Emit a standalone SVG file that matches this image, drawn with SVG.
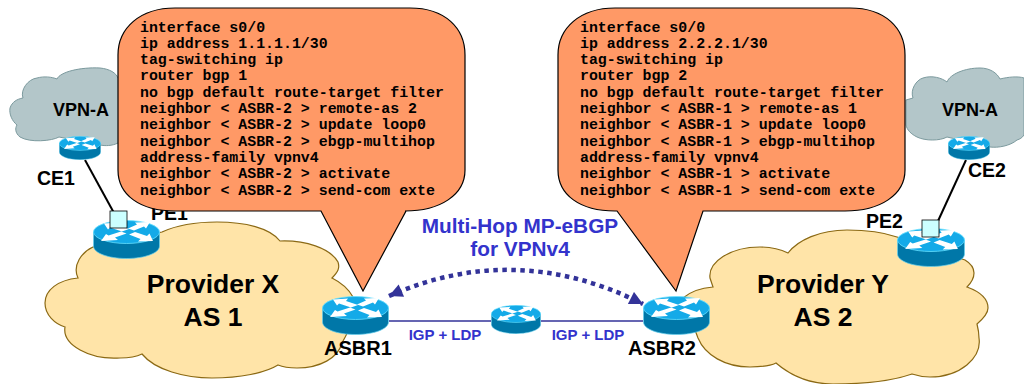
<svg xmlns="http://www.w3.org/2000/svg" xmlns:xlink="http://www.w3.org/1999/xlink" width="1024" height="384" viewBox="0 0 1024 384">
<style>
.lab{font-family:"Liberation Sans",Arial,sans-serif;font-weight:bold;fill:#000}
.prov{font-size:26.5px;text-anchor:middle}
.blue{fill:#3333cc;text-anchor:middle}
.cfg{font-family:"Liberation Mono","Courier New",monospace;font-weight:bold;font-size:14.9px;fill:#000}
.gray{fill:#b3c6c9;stroke:#7c9a9e;stroke-width:1}
.tan{fill:#ffe4a8;stroke:#8b6914;stroke-width:1.2}
.call{fill:#ff9966;stroke:#000;stroke-width:1.2}
.sq{fill:#ccffff;stroke:#000;stroke-width:.8}
</style>
<defs>
<symbol id="router" viewBox="0 0 67 39" preserveAspectRatio="none">
<path d="M.5 12V26C.5 33 15 38.500 33.500 38.500S66.500 33 66.500 26V12Z" fill="#0077a8" stroke="#66d0ee" stroke-width=".7"/>
<ellipse cx="33.500" cy="12" rx="33" ry="11.500" fill="#14aae8" stroke="#66e0ff" stroke-width=".8"/>
<path fill="#fff" d="M11 3.500L26 2.500L24 5L36 9L29 11.500L17 7.500L15 9.500ZM57 2L42 2.500L44 4.500L35 8.500L41 10.500L51 6.500L53 8.500ZM8 21L13 14L15.500 15.500L28 11.500L33.500 13.500L22 17.500L25 20ZM60 21L45 21.500L47.500 19L36 14.500L42 12L54 16L56.500 13.500Z"/>
</symbol>
<marker id="arr" viewBox="0 0 10 10" refX="10" refY="5" markerWidth="3.400" markerHeight="3" orient="auto-start-reverse"><path d="M0 0L10 5L0 10Z" fill="#333399"/></marker>
</defs>

<g id="cloud-vpn-a-left"><path class="gray" d="M59 137C52 141 30 143 20 137C15 133 15 128 17 125C12 121 9 114 10 108C12 102 17 99 23 98C20 90 28 79 37 78C44 76 52 77 57 79C60 72 80 67 100 68C110 69 116 73 118 78L130 78V143H118C112 146 105 146 100 145Z"/></g>
<g id="cloud-vpn-a-right"><path class="gray" d="M906 100L913 98C910 90 916 80 923 78C932 75 942 78 947 82C950 74 965 68 980 68C990 68 997 73 1000 79C1008 77 1018 76 1024 78V135C1022 138 1020 139 1017 140C1010 146 998 148 990 147L947 137C940 141 925 141 917 137C911 134 907 130 906 125Z"/></g>
<g id="cloud-provider-x"><path class="tan" d="M93 247C82 252 72 265 78 278C58 280 45 290 45 303C45 315 55 324 65 327C62 345 90 360 120 358C128 358 136 357 142 354C155 370 185 378 212 378C240 378 265 373 278 365C285 368 290 368 297 368C320 368 338 358 342 343C352 325 358 310 353 297C348 288 340 282 332 278C338 272 340 268 338 262C330 248 305 240 280 241C270 228 245 222 217 222C195 222 175 226 162 232Z"/></g>
<g id="cloud-provider-y"><path class="tan" d="M897 237C880 231 865 230 847 230C820 230 798 240 788 253C780 249 770 247 760 247C730 247 708 262 710 278L713 287C700 288 690 292 683 298L698 338C705 355 725 367 750 367C760 367 770 366 776 363C790 375 810 384 833 384C870 384 895 380 912 374C918 376 924 377 930 377C960 377 982 358 979 338C979 332 978 328 977 324C984 318 988 313 988 308C988 298 978 291 967 287C972 282 974 278 974 273C974 268 970 263 965 260Z"/></g>

<g id="connectors">
<path d="M85 160L114 213" stroke="#000" stroke-width="2" fill="none"/>
<path d="M966 160L938 221" stroke="#000" stroke-width="2" fill="none"/>
<path d="M389 321H491M541 321H643" stroke="#333399" stroke-width="1.500" fill="none"/>
<path d="M389 296Q516 240 643 304" stroke="#333399" stroke-width="4.500" stroke-dasharray="4.500 4.500" fill="none" marker-start="url(#arr)" marker-end="url(#arr)"/>
</g>

<g id="label-pe1"><text class="lab" x="151" y="220" font-size="19.500">PE1</text></g>

<g id="callout-asbr1">
<path class="call" d="M175 8H410C445 8 465 28 465 55V170C465 195 440 211 405 211H406L363 291L321 211H175C140 211 118 195 118 170V55C118 28 140 8 175 8Z"/>
<text class="cfg" x="140" y="31.500">interface s0/0</text>
<text class="cfg" x="140" y="47.800">ip address 1.1.1.1/30</text>
<text class="cfg" x="140" y="64.100">tag-switching ip</text>
<text class="cfg" x="140" y="80.400">router bgp 1</text>
<text class="cfg" x="140" y="96.700">no bgp default route-target filter</text>
<text class="cfg" x="140" y="113">neighbor &lt; ASBR-2 &gt; remote-as 2</text>
<text class="cfg" x="140" y="129.300">neighbor &lt; ASBR-2 &gt; update loop0</text>
<text class="cfg" x="140" y="145.600">neighbor &lt; ASBR-2 &gt; ebgp-multihop</text>
<text class="cfg" x="140" y="161.900">address-family vpnv4</text>
<text class="cfg" x="140" y="178.200">neighbor &lt; ASBR-2 &gt; activate</text>
<text class="cfg" x="140" y="194.500">neighbor &lt; ASBR-2 &gt; send-com exte</text>
</g>

<g id="callout-asbr2">
<path class="call" d="M615 8H850C885 8 905 28 905 55V170C905 195 880 211 845 211H703L676 291L617 211H615C580 211 558 195 558 170V55C558 28 580 8 615 8Z"/>
<text class="cfg" x="580" y="31.500">interface s0/0</text>
<text class="cfg" x="580" y="47.800">ip address 2.2.2.1/30</text>
<text class="cfg" x="580" y="64.100">tag-switching ip</text>
<text class="cfg" x="580" y="80.400">router bgp 2</text>
<text class="cfg" x="580" y="96.700">no bgp default route-target filter</text>
<text class="cfg" x="580" y="113">neighbor &lt; ASBR-1 &gt; remote-as 1</text>
<text class="cfg" x="580" y="129.300">neighbor &lt; ASBR-1 &gt; update loop0</text>
<text class="cfg" x="580" y="145.600">neighbor &lt; ASBR-1 &gt; ebgp-multihop</text>
<text class="cfg" x="580" y="161.900">address-family vpnv4</text>
<text class="cfg" x="580" y="178.200">neighbor &lt; ASBR-1 &gt; activate</text>
<text class="cfg" x="580" y="194.500">neighbor &lt; ASBR-1 &gt; send-com exte</text>
</g>

<g id="node-ce1"><use xlink:href="#router" href="#router" x="59" y="136" width="42" height="24"/><text class="lab" x="37" y="185" font-size="19.500">CE1</text></g>
<g id="node-pe1"><use xlink:href="#router" href="#router" x="93" y="220" width="67" height="39"/><rect class="sq" x="110" y="211" width="17" height="17"/></g>
<g id="node-asbr1"><use xlink:href="#router" href="#router" x="322" y="296" width="67" height="39"/><text class="lab" x="324" y="355" font-size="20">ASBR1</text></g>
<g id="node-middle"><use xlink:href="#router" href="#router" x="491" y="305" width="50" height="29"/></g>
<g id="node-asbr2"><use xlink:href="#router" href="#router" x="643" y="296" width="67" height="39"/><text class="lab" x="628" y="355" font-size="20">ASBR2</text></g>
<g id="node-pe2"><use xlink:href="#router" href="#router" x="897" y="228" width="68" height="39"/><rect class="sq" x="922" y="220" width="17" height="17"/><text class="lab" x="866" y="228" font-size="19.500">PE2</text></g>
<g id="node-ce2"><use xlink:href="#router" href="#router" x="948" y="136" width="42" height="24"/><text class="lab" x="968" y="177" font-size="19.500">CE2</text></g>

<text class="lab" x="53" y="116" font-size="18">VPN-A</text>
<text class="lab" x="942" y="116" font-size="18">VPN-A</text>
<text class="lab prov" x="213" y="293">Provider X</text>
<text class="lab prov" x="213" y="326">AS 1</text>
<text class="lab prov" x="823" y="293">Provider Y</text>
<text class="lab prov" x="823" y="326">AS 2</text>
<text class="lab blue" x="520" y="233" font-size="20.800">Multi-Hop MP-eBGP</text>
<text class="lab blue" x="520" y="256" font-size="20.800">for VPNv4</text>
<text class="lab blue" x="445" y="340" font-size="15">IGP + LDP</text>
<text class="lab blue" x="588" y="340" font-size="15">IGP + LDP</text>
</svg>
